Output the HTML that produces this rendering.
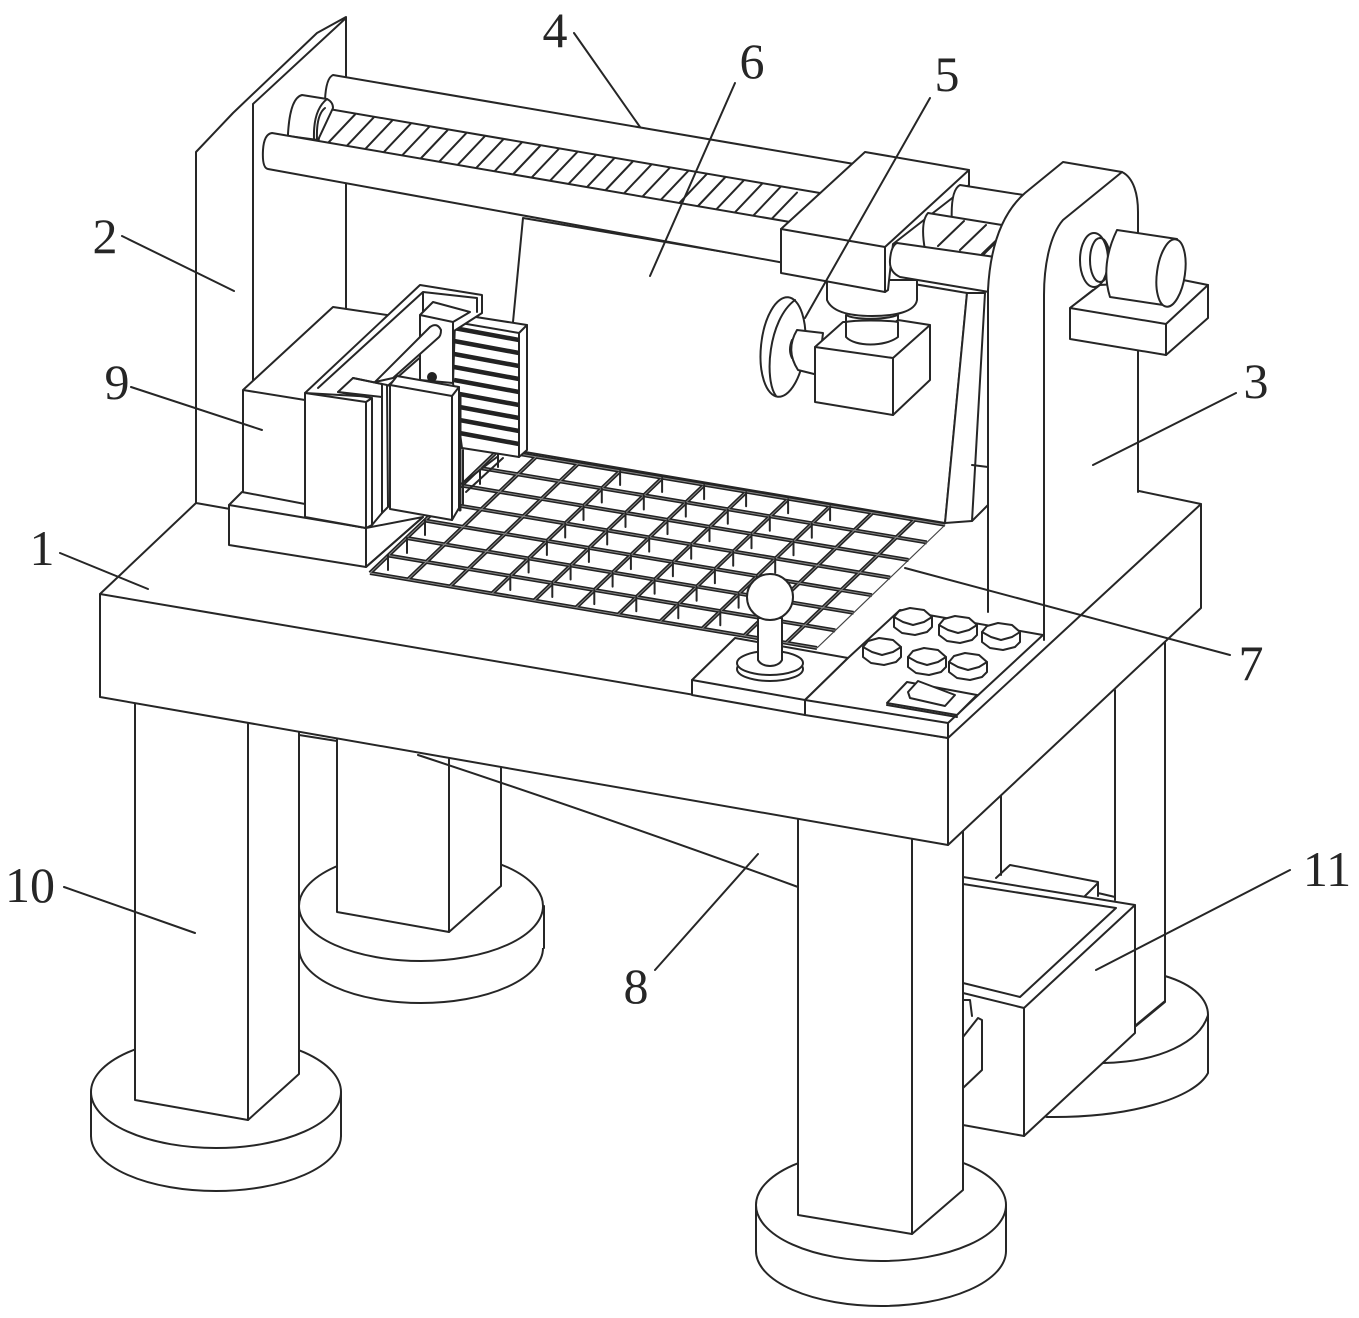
<!DOCTYPE html>
<html><head><meta charset="utf-8"><style>
html,body{margin:0;padding:0;background:#fff}
svg{display:block}
.l{fill:none;stroke:#262626;stroke-width:2;stroke-linejoin:round;stroke-linecap:round}
.w{fill:#fff;stroke:#262626;stroke-width:2;stroke-linejoin:round;stroke-linecap:round}
.f{fill:#fff;stroke:none}
text{font-family:"Liberation Serif",serif;font-size:50px;fill:#262626;text-anchor:middle}
</style></head><body>
<svg width="1359" height="1318" viewBox="0 0 1359 1318" xmlns="http://www.w3.org/2000/svg">
<defs>
<g id="btn">
<path class="w" d="M-19 0V10L-11 16L2 18L14 15L19 10V0L11 -7L-3 -9L-14 -6Z"/>
<path class="l" d="M-19 0L-10 5L0 8L11 5L19 0"/>
</g>
<path id="vs" class="l" d="M510.3 576v14M528.6 558.500v14M546.900 541v14M565.200 523.500v14M583.500 506v14M601.800 488.500v14M620.100 471v14"/>
</defs>

<!-- back-right disc, leg -->
<path class="w" d="M1165 976C1195 985 1208 1000 1208 1015V1073C1195 1098 1130 1118 1047 1117L1000 1100L1103 1063L1136 1025L1165 1001Z"/>
<path class="l" d="M1208 1015C1200 1042 1160 1062 1103 1063"/>
<path class="l" d="M1165 640V1002L1136 1026M1115 690V900M1001 795V875"/>

<!-- back-left disc, leg -->
<ellipse class="w" cx="421" cy="948" rx="122" ry="55"/>
<rect class="f" x="299" y="906" width="245" height="42"/>
<path class="l" d="M299 906V948M544 906V948"/>
<ellipse class="w" cx="421" cy="906" rx="122" ry="55"/>
<path class="w" d="M337 730V912L449 932L501 886V755Z"/>
<path class="l" d="M449 750V932"/>

<!-- front-left disc, leg -->
<ellipse class="w" cx="216" cy="1136" rx="125" ry="55"/>
<rect class="f" x="91" y="1092" width="250" height="44"/>
<path class="l" d="M91 1092V1136M341 1092V1136"/>
<ellipse class="w" cx="216" cy="1092" rx="125" ry="56"/>
<path class="w" d="M135 695V1100L248 1120L299 1074V715Z"/>
<path class="l" d="M248 715V1120"/>
<path class="l" d="M299 735L337 741"/>

<!-- support 8 -->
<path class="l" d="M418 755Q600 815 798 887"/>

<!-- drawer 11 -->
<path class="l" d="M996 878L1010 865L1098 882V896M1085 896L1098 883M1098 893L1115 897"/>
<path class="w" d="M963 877L1135 905V1033L1024 1136L963 1125Z"/>
<path class="l" d="M1135 905L1024 1008V1136M963 993L1024 1008"/>
<path class="l" d="M963 884L1116 908L1020 997L963 983"/>
<path class="w" d="M963 1037L978 1018L982 1020V1070L963 1088Z"/>
<path class="l" d="M963 1000H970L972 1016"/>

<!-- front-right disc, leg -->
<ellipse class="w" cx="881" cy="1251" rx="125" ry="55"/>
<rect class="f" x="756" y="1205" width="250" height="46"/>
<path class="l" d="M756 1205V1251M1006 1205V1251"/>
<ellipse class="w" cx="881" cy="1205" rx="125" ry="56"/>
<path class="w" d="M798 815V1215L912 1234L963 1190V815Z"/>
<path class="l" d="M912 830V1234"/>

<!-- table -->
<path class="f" d="M100 594L196 503L1139 491L1201 504V608L948 845L100 697Z"/>
<path class="l" d="M100 697V594L196 503M1139 491L1201 504V608L948 845L100 697"/>
<path class="l" d="M100 594L948 738L1201 504M948 738V845"/>

<!-- plate 2 -->
<path class="f" d="M196 503V152L233 113L317 33L346 17V320L253 380V503Z"/>
<path class="l" d="M196 503V152L233 113L317 33L346 17V315M253 104L346 18M253 104V380M196 503L230 509"/>

<!-- panel 6 -->
<path class="w" d="M523 218L967 293L945 523L525 452L513 322Z"/>
<path class="l" d="M523 214L786 259"/>
<path class="w" d="M967 293L985 293L972 521L945 523Z"/>
<path class="l" d="M988 293V505L972 521M972 465L988 467"/>

<!-- grid 7 -->
<path d="M370 573L817 648M388.300 555.500L835.300 630.400M406.600 538L853.600 612.800M424.900 520.500L871.900 595.200M443.200 503L890.200 577.600M461.500 485.500L908.500 560M479.800 468L926.800 542.400M498.100 450.500L945.100 524.800M408 579.400L536 456.900M450 586.400L578 463.900M492 593.500L620 471M534 600.600L662 478.100M576 607.600L704 485.100M618 614.700L746 492.200M660 621.700L788 499.200M702 628.800L830 506.300M744 635.800L872 513.300M786 642.900L914 520.400M370 573L498 450.500" fill="none" stroke="#222" stroke-width="4"/>
<path d="M370 573L817 648M388.300 555.500L835.300 630.400M406.600 538L853.600 612.800M424.900 520.500L871.900 595.200M443.200 503L890.200 577.600M461.500 485.500L908.500 560M479.800 468L926.800 542.400M498.100 450.500L945.100 524.800M408 579.400L536 456.900M450 586.400L578 463.900M492 593.500L620 471M534 600.600L662 478.100M576 607.600L704 485.100M618 614.700L746 492.200M660 621.700L788 499.200M702 628.800L830 506.300M744 635.800L872 513.300M786 642.900L914 520.400M370 573L498 450.500" fill="none" stroke="#888" stroke-width="1"/>
<path d="M817 648L945 525" fill="none" stroke="#444" stroke-width="1.200"/>
<use href="#vs"/><use href="#vs" transform="translate(42 7.060)"/><use href="#vs" transform="translate(84 14.100)"/><use href="#vs" transform="translate(126 21.200)"/><use href="#vs" transform="translate(168 28.200)"/><use href="#vs" transform="translate(210 35.300)"/>
<path class="l" d="M388 555v15M407 538v15M425 520v15M463 490v14M480 470v14M498 452v15"/>

<!-- back rod, screw, front rod (left part) -->
<path class="w" d="M325 100Q326 78 333 75L860 165L850 250L325 140Z"/>
<path class="w" d="M323 108L820 193L790 225L318 145Z"/>
<path class="l" d="M328 143l27-28.500m-8.500 31.650l27-28.500m-8.500 31.650l27-28.500m-8.500 31.650l27-28.500m-8.500 31.650l27-28.500m-8.500 31.650l27-28.500m-8.500 31.650l27-28.500m-8.500 31.650l27-28.500m-8.500 31.650l27-28.500m-8.500 31.650l27-28.500m-8.500 31.650l27-28.500m-8.500 31.650l27-28.500m-8.500 31.650l27-28.500m-8.500 31.650l27-28.500m-8.500 31.650l27-28.500m-8.500 31.650l27-28.500m-8.500 31.650l27-28.500m-8.500 31.650l27-28.500m-8.500 31.650l27-28.500m-8.500 31.650l27-28.500m-8.500 31.650l27-28.500m-8.500 31.650l27-28.500m-8.500 31.650l27-28.500m-8.500 31.650l27-28.500m-8.500 31.650l25-26"/>
<path class="w" d="M288 134Q290 98 302 95L327 99Q333 102 333 108L318 140L288 136Z"/>
<path class="l" d="M314 139Q313 110 327 99M317 140Q316 115 325 108"/>
<path class="w" d="M272 133L790 222V264L268 169Q262 168 263 150Q264 134 272 133Z"/>

<!-- collar and box 5 stem -->
<path class="w" d="M827 280V300C832 312 850 316 872 316C895 316 915 312 917 300V280Z"/>
<path class="w" d="M846 315V337C855 347 885 347 898 337V315C885 320 855 320 846 315Z"/>

<!-- carriage -->
<path class="w" d="M781 229L865 152L969 170V185L893 244L888 290L885 292L781 273Z"/>
<path class="l" d="M781 229L885 247V292M885 247L969 170"/>

<!-- right rods -->
<path class="w" d="M960 185L1030 196L1030 235L952 225Q950 190 960 185Z"/>
<path class="w" d="M928 213L1002 225L998 262L925 250Q920 222 928 213Z"/>
<path class="l" d="M938 246l26-25m-4 29l26-25m-4 29l26-25M982 256l20-20"/>
<path class="w" d="M897 243L995 257V293L900 277Q889 272 890 260Q891 246 897 243Z"/>

<!-- upright 3 -->
<path class="f" d="M988 612V290C990 250 1000 215 1025 193L1063 162L1122 172C1134 178 1138 195 1138 212V495L1044 640Z"/>
<path class="l" d="M988 612V290C990 250 1000 215 1025 193L1063 162L1122 172C1134 178 1138 195 1138 212V492"/>
<path class="l" d="M1122 172L1063 220C1050 235 1044 265 1044 295V640"/>

<!-- motor -->
<path class="w" d="M1070 308L1093 290L1208 285V318L1166 355L1070 339Z"/>
<path class="w" d="M1183 280L1208 285L1166 324L1070 308L1100 285Z"/>
<path class="l" d="M1166 324V355"/>
<ellipse class="w" cx="1094" cy="260" rx="14" ry="27"/>
<ellipse class="l" cx="1100" cy="260" rx="10" ry="22"/>
<path class="w" d="M1117 230L1177 239L1170 306L1110 297Q1100 265 1117 230Z"/>
<ellipse class="w" cx="1171" cy="273" rx="14" ry="34" transform="rotate(8 1171 273)"/>

<!-- 5 wheel and box -->
<ellipse class="w" cx="783" cy="347" rx="22" ry="50" transform="rotate(6 783 347)"/>
<path class="l" d="M776 396C764 380 768 320 795 300"/>
<path class="w" d="M797 330L823 333L818 375L798 370Q785 350 797 330Z"/>
<path class="l" d="M792 340Q788 350 792 358"/>
<path class="w" d="M815 347L843 322L846 322C855 330 885 330 898 320L930 325V380L893 415L815 402Z"/>
<path class="l" d="M815 347L893 358V415M893 358L930 325"/>
<path class="w" d="M846 322V337C855 347 885 347 898 337V322C885 320 855 320 846 322Z"/>

<!-- mechanism 9 -->
<path class="f" d="M243 390L333 307L387 315L366 400L366 500L243 492Z"/>
<path class="l" d="M243 492V390L333 307L387 315M243 390L305 400"/>
<path class="w" d="M229 505L242 492L305 504V517L366 528L423 517L366 567L229 545Z"/>
<path class="l" d="M229 505L366 528V567M366 567L423 517"/>

<!-- louver -->
<path class="w" d="M455 322L463 315L527 325V450L519 457L462 448L453 383Z"/>
<path class="l" d="M455 322L519 333V457M519 333L527 325"/>
<path d="M454 328L519 340M454 341L519 353M454 354L519 366M454 367L519 379M454 380L519 392M454 393L519 405M454 406L519 418M454 419L519 431M454 432L519 444" fill="none" stroke="#222" stroke-width="4.500"/>
<path class="l" d="M460 395V510" style="stroke-width:3"/>
<path class="l" d="M463 450V490M497 457L463 483M503 458L466 492"/>

<!-- rail -->
<path class="w" d="M305 393L420 285L482 295V313L440 340L375 397Z"/>
<path class="l" d="M318 388L423 292L477 298V312M423 292V315"/>
<path class="w" d="M420 315L433 302L470 312L453 322V383L420 380Z"/>
<path class="l" d="M420 315L453 322"/>
<path class="w" d="M430 327Q437 322 441 330Q441 336 438 338L393 378L375 382Z"/>
<circle cx="432" cy="377" r="5" fill="#222"/>
<path class="w" d="M338 392L353 378L387 385L388 507L382 513L372 525V398Z"/>
<path class="l" d="M353 378L382 384V513M338 392L382 397"/>
<path class="w" d="M305 393L366 402L372 398V525L366 528L305 517Z"/>
<path class="l" d="M366 402V528"/>
<path class="w" d="M390 385L397 376L459 387V508L452 520L390 509Z"/>
<path class="l" d="M390 385L452 396V520M452 396L459 387"/>

<!-- panels -->
<path class="w" d="M735 638L848 658L805 700V715L692 695V680Z"/>
<path class="l" d="M692 680L805 700V715"/>
<path class="w" d="M848 658L900 610L1043 635L948 723V738L805 715V700Z"/>
<path class="l" d="M805 700L948 723V738"/>

<!-- joystick -->
<ellipse class="w" cx="770" cy="669" rx="33" ry="12"/>
<ellipse class="w" cx="770" cy="663" rx="33" ry="12"/>
<path class="w" d="M758 618V660C762 668 778 668 782 660V618Z"/>
<circle class="w" cx="770" cy="597" r="23"/>

<!-- buttons -->
<use href="#btn" x="913" y="617"/><use href="#btn" x="958" y="625"/><use href="#btn" x="1001" y="632"/>
<use href="#btn" x="882" y="647"/><use href="#btn" x="927" y="657"/><use href="#btn" x="968" y="662"/>

<!-- switch -->
<path class="w" d="M887 703L907 682L977 695L957 715Z"/>
<path class="l" d="M887 705L957 717"/>
<path class="w" d="M918 681L955 695L945 706L910 698L908 692Z"/>

<!-- leaders -->
<path class="l" d="M60 553L148 589M122 236L234 291M1236 393L1093 465M574 33L640 127M930 98L805 318M735 83L650 276M905 568L1230 655M758 854L655 970M131 387L262 430M64 887L195 933M1290 870L1096 970"/>

<text x="42" y="565">1</text>
<text x="105" y="253">2</text>
<text x="1256" y="398">3</text>
<text x="555" y="47">4</text>
<text x="947" y="91">5</text>
<text x="752" y="78">6</text>
<text x="1251" y="680">7</text>
<text x="636" y="1003">8</text>
<text x="117" y="399">9</text>
<text x="30" y="902">10</text>
<text x="1327" y="886">11</text>
</svg>
</body></html>
